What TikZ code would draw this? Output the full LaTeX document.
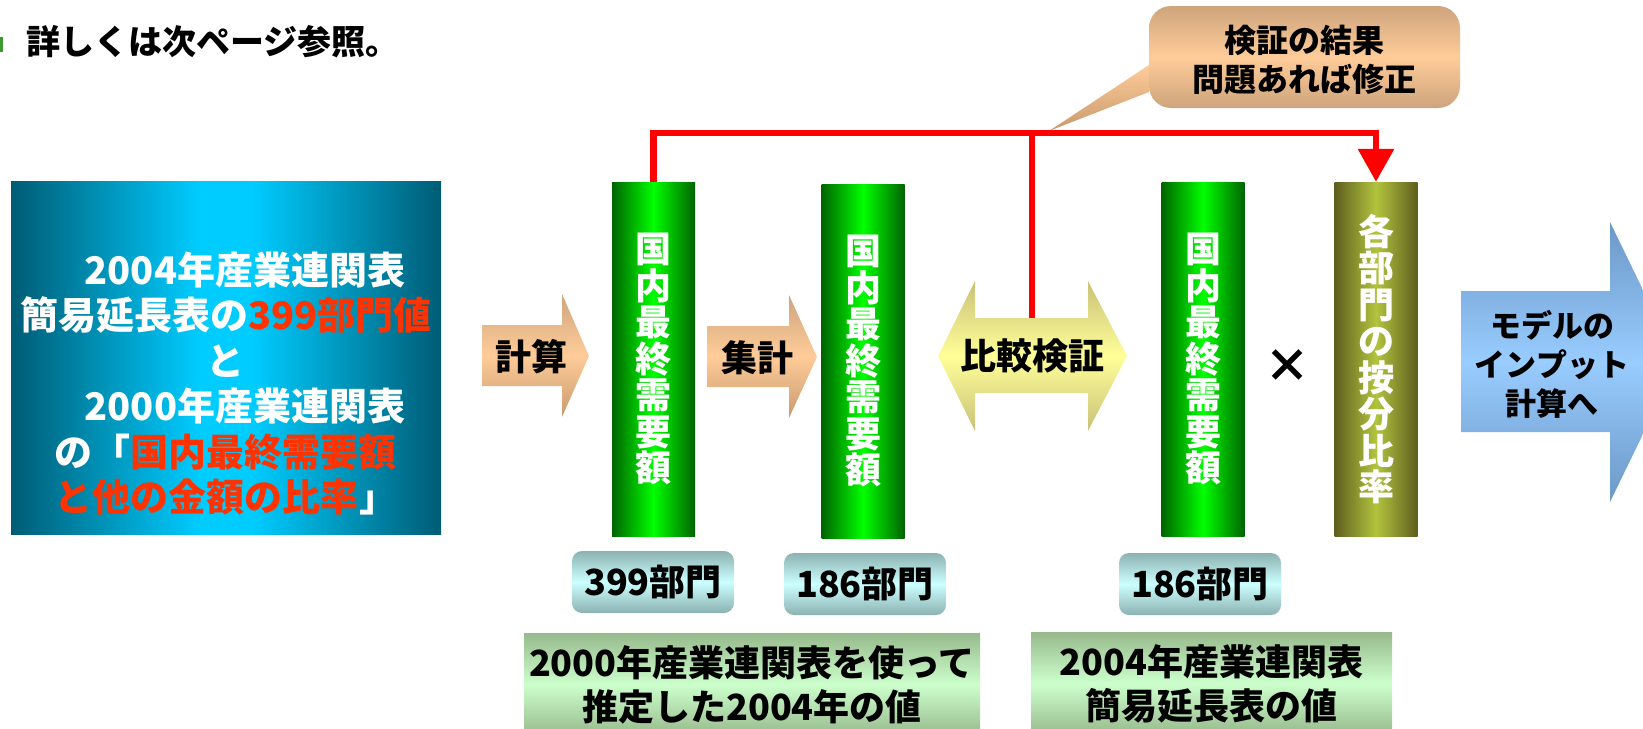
\documentclass[tikz,border=0pt]{standalone}
\usepackage{fontspec}
\setmainfont{Noto Sans CJK JP}
\usetikzlibrary{arrows.meta,positioning}
\definecolor{tealdark}{HTML}{005C75}
\definecolor{tealbright}{HTML}{00CCFF}
\definecolor{hotred}{HTML}{FF3300}
\definecolor{bardark}{HTML}{006400}
\definecolor{barlight}{HTML}{00FF00}
\definecolor{olivedark}{HTML}{5E5E1E}
\definecolor{olivelight}{HTML}{B2C43E}
\definecolor{peach}{HTML}{FFCC99}
\definecolor{tanbrown}{HTML}{C89A6E}
\definecolor{paleyellow}{HTML}{FFFF99}
\definecolor{khaki}{HTML}{C9C077}
\definecolor{skyblue}{HTML}{99CCFF}
\definecolor{steelblue}{HTML}{6B98C6}
\definecolor{tagcyan}{HTML}{CCFFFF}
\definecolor{taggray}{HTML}{8DB1B1}
\definecolor{mint}{HTML}{CCFFCC}
\definecolor{sage}{HTML}{97B98B}
\definecolor{bulletgreen}{HTML}{3C9A2C}
\pgfdeclarehorizontalshading{srcglow}{100bp}{color(0bp)=(tealdark); color(25bp)=(tealdark);
  color(47bp)=(tealbright); color(53bp)=(tealbright); color(75bp)=(tealdark); color(100bp)=(tealdark)}
\tikzset{
  srctext/.style={inner sep=0pt, align=center, text=white, font=\fontsize{38}{45.4}\selectfont\bfseries},
  demandbar/.style={minimum width=83pt, minimum height=354pt, inner sep=0pt, align=center, text=white,
    font=\fontsize{36}{36.5}\selectfont\bfseries, left color=bardark, right color=bardark, middle color=barlight},
  ratiobar/.style={demandbar, left color=olivedark, right color=olivedark, middle color=olivelight},
  arrowshade/.style={top color=tanbrown!90!white, bottom color=tanbrown, middle color=peach},
  dblshade/.style={top color=khaki, bottom color=khaki, middle color=paleyellow},
  blueshade/.style={top color=steelblue, bottom color=steelblue, middle color=skyblue},
  arrowtext/.style={inner sep=0pt, font=\fontsize{36}{36}\selectfont\bfseries},
  tag/.style={minimum width=162pt, minimum height=62pt, rounded corners=10pt, inner sep=0pt,
    font=\fontsize{36}{36}\selectfont\bfseries, top color=taggray, bottom color=taggray, middle color=tagcyan},
  caption/.style={minimum height=103pt, inner sep=0pt, align=center,
    font=\fontsize{36}{44}\selectfont\bfseries, top color=sage, bottom color=sage, middle color=mint},
  feedback/.style={red, line width=6.5pt}
}
\begin{document}
\begin{tikzpicture}[x=1pt,y=-1pt]
\useasboundingbox (0,0) rectangle (1643,728);
\clip (0,0) rectangle (1643,728);

% note at the top
\fill[bulletgreen] (-4,37) rectangle (3,52);
\node[anchor=west, inner sep=0pt, font=\fontsize{34}{34}\selectfont\bfseries] (hint) at (26,42) {詳しくは次ページ参照。};

% source data
\shade[shading=srcglow] (11,181) rectangle (441,534);
\node[srctext] (src) at (226,383.5) {\hspace*{1em}2004年産業連関表\\簡易延長表の\textcolor{hotred}{399部門値}\\と\\\hspace*{1em}2000年産業連関表\\の「\textcolor{hotred}{国内最終需要額}\\\textcolor{hotred}{と他の金額の比率}」};

% block arrows
\shade[arrowshade] (482,325) -- (562,325) -- (562,294) -- (589,356) -- (562,417) -- (562,386) -- (482,386) -- cycle;
\node[arrowtext] (calc) at (531,357) {計算};
\shade[arrowshade] (707,326) -- (789,326) -- (789,295) -- (817,357) -- (789,418) -- (789,387) -- (707,387) -- cycle;
\node[arrowtext] (agg) at (757,358) {集計};

% columns
\node[demandbar] (dem1) at (653.5,359) {国\\内\\最\\終\\需\\要\\額};
\node[demandbar] (dem2) at (863,361) {国\\内\\最\\終\\需\\要\\額};
\node[demandbar] (dem3) at (1203,359) {国\\内\\最\\終\\需\\要\\額};
\node[ratiobar] (ratio) at (1376,359) {各\\部\\門\\の\\按\\分\\比\\率};
\node[inner sep=0pt, font=\fontsize{46}{46}\selectfont\bfseries] (times) at (1287,366) {×};

% comparison
\shade[dblshade] (938,356) -- (975,281) -- (975,318) -- (1088,318) -- (1088,281) -- (1127,356)
  -- (1088,431) -- (1088,393) -- (975,393) -- (975,431) -- cycle;
\node[arrowtext, minimum height=75pt] (cmp) at (1032,355.5) {比較検証};

% to the model
\shade[blueshade] (1461,291) -- (1610,291) -- (1610,222) -- (1678,362) -- (1610,502) -- (1610,432) -- (1461,432) -- cycle;
\node[align=center, inner sep=0pt, font=\fontsize{31}{39}\selectfont\bfseries] (model) at (1552,364) {モデルの\\インプット\\計算へ};

% callout
\shade[top color=peach, bottom color=tanbrown] (1149,65) -- (1049,131) -- (1149,92) -- cycle;
\shade[top color=tanbrown!90!white, bottom color=tanbrown!90!white, middle color=peach, rounded corners=22pt] (1149,6) rectangle (1460,108);
\node[align=center, inner sep=0pt, font=\fontsize{32}{39}\selectfont\bfseries] (memo) at (1304,59.5) {検証の結果\\問題あれば修正};

% feedback
\coordinate (bus) at (653.5,133);
\draw[feedback, -{Triangle[width=35pt,length=33pt]}] (dem1.north) -- (bus) -| (ratio.north);
\draw[feedback] (cmp.north) -- (cmp.north |- bus);

% sector counts
\node[tag] (tag1) at (653,582) {399部門};
\node[tag] (tag2) at (865,584) {186部門};
\node[tag] (tag3) at (1200,584) {186部門};

% captions
\node[caption, minimum width=456pt] (cap1) at (752,684.5) {2000年産業連関表を使って\\推定した2004年の値};
\node[caption, minimum width=361pt] (cap2) at (1211.5,683.5) {2004年産業連関表\\簡易延長表の値};
\end{tikzpicture}
\end{document}
